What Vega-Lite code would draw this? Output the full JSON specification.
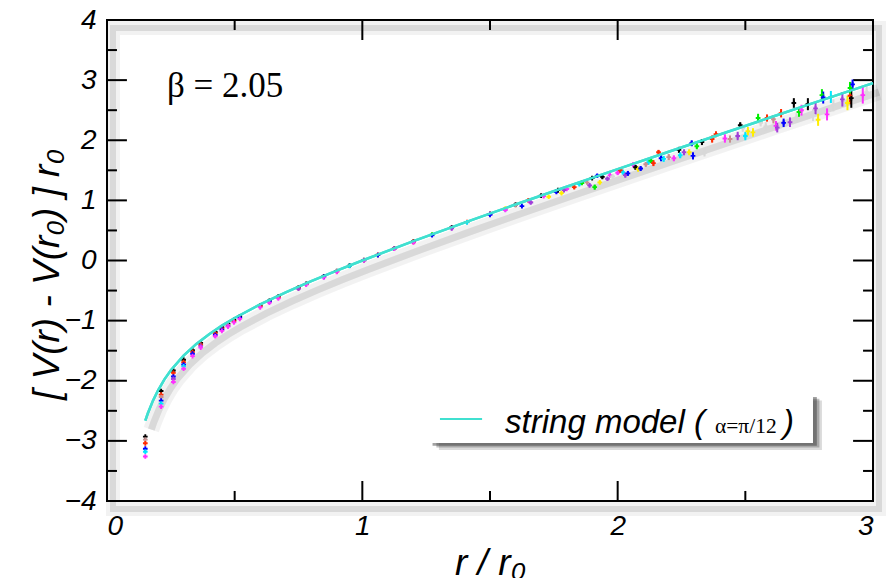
{
  "$schema": "https://vega.github.io/schema/vega-lite/v6.json",
  "width": 766,
  "height": 481,
  "autosize": {"type": "none"},
  "padding": {"left": 107, "top": 20, "right": 13, "bottom": 77},
  "background": "white",
  "config": {
    "view": {"stroke": "black", "strokeWidth": 2},
    "axis": {
      "domain": false,
      "grid": false,
      "ticks": false,
      "labelFont": "Liberation Sans",
      "labelFontStyle": "italic",
      "labelFontSize": 28,
      "labelColor": "black",
      "titleFont": "Liberation Sans",
      "titleFontStyle": "italic",
      "titleFontWeight": "normal",
      "titleFontSize": 37,
      "titleColor": "black"
    }
  },
  "datasets": {
    "lattice": [
      {"r": 0.15, "v": -2.93, "e": 0.01, "s": "k"}, {"r": 0.15, "v": -2.98, "e": 0.01, "s": "p"}, {"r": 0.15, "v": -3.04, "e": 0.01, "s": "r"}, {"r": 0.15, "v": -3.13, "e": 0.01, "s": "b"}, {"r": 0.15, "v": -3.18, "e": 0.01, "s": "c"}, {"r": 0.15, "v": -3.26, "e": 0.01, "s": "m"},
      {"r": 0.212, "v": -2.17, "e": 0.01, "s": "k"}, {"r": 0.212, "v": -2.23, "e": 0.01, "s": "r"}, {"r": 0.212, "v": -2.27, "e": 0.01, "s": "p"}, {"r": 0.212, "v": -2.33, "e": 0.01, "s": "b"}, {"r": 0.212, "v": -2.38, "e": 0.01, "s": "c"}, {"r": 0.212, "v": -2.43, "e": 0.01, "s": "m"},
      {"r": 0.26, "v": -1.83, "e": 0.01, "s": "k"}, {"r": 0.26, "v": -1.87, "e": 0.01, "s": "r"}, {"r": 0.26, "v": -1.93, "e": 0.01, "s": "b"}, {"r": 0.26, "v": -1.97, "e": 0.01, "s": "v"}, {"r": 0.26, "v": -2.02, "e": 0.01, "s": "m"},
      {"r": 0.3, "v": -1.65, "e": 0.01, "s": "k"}, {"r": 0.3, "v": -1.69, "e": 0.01, "s": "r"}, {"r": 0.3, "v": -1.73, "e": 0.01, "s": "b"}, {"r": 0.3, "v": -1.76, "e": 0.01, "s": "c"}, {"r": 0.3, "v": -1.8, "e": 0.01, "s": "m"},
      {"r": 0.335, "v": -1.49, "e": 0.01, "s": "k"}, {"r": 0.335, "v": -1.52, "e": 0.01, "s": "r"}, {"r": 0.335, "v": -1.55, "e": 0.01, "s": "b"}, {"r": 0.335, "v": -1.59, "e": 0.01, "s": "m"},
      {"r": 0.367, "v": -1.37, "e": 0.01, "s": "k"}, {"r": 0.367, "v": -1.4, "e": 0.01, "s": "r"}, {"r": 0.367, "v": -1.42, "e": 0.01, "s": "v"}, {"r": 0.367, "v": -1.45, "e": 0.01, "s": "m"},
      {"r": 0.424, "v": -1.19, "e": 0.01, "s": "k"}, {"r": 0.424, "v": -1.21, "e": 0.01, "s": "r"}, {"r": 0.424, "v": -1.24, "e": 0.01, "s": "b"}, {"r": 0.424, "v": -1.26, "e": 0.01, "s": "m"},
      {"r": 0.45, "v": -1.11, "e": 0.01, "s": "k"}, {"r": 0.45, "v": -1.13, "e": 0.01, "s": "r"}, {"r": 0.45, "v": -1.15, "e": 0.01, "s": "b"}, {"r": 0.45, "v": -1.17, "e": 0.01, "s": "m"},
      {"r": 0.474, "v": -1.05, "e": 0.01, "s": "k"}, {"r": 0.474, "v": -1.07, "e": 0.01, "s": "p"}, {"r": 0.474, "v": -1.09, "e": 0.01, "s": "v"}, {"r": 0.474, "v": -1.1, "e": 0.01, "s": "m"},
      {"r": 0.497, "v": -0.99, "e": 0.01, "s": "k"}, {"r": 0.497, "v": -1.01, "e": 0.01, "s": "r"}, {"r": 0.497, "v": -1.03, "e": 0.01, "s": "m"},
      {"r": 0.52, "v": -0.93, "e": 0.01, "s": "k"}, {"r": 0.52, "v": -0.95, "e": 0.01, "s": "b"}, {"r": 0.52, "v": -0.97, "e": 0.01, "s": "m"},
      {"r": 0.6, "v": -0.75, "e": 0.01, "s": "k"}, {"r": 0.6, "v": -0.76, "e": 0.01, "s": "r"}, {"r": 0.6, "v": -0.78, "e": 0.01, "s": "m"},
      {"r": 0.636, "v": -0.67, "e": 0.01, "s": "k"}, {"r": 0.636, "v": -0.685, "e": 0.01, "s": "b"}, {"r": 0.636, "v": -0.7, "e": 0.01, "s": "m"},
      {"r": 0.671, "v": -0.6, "e": 0.01, "s": "k"}, {"r": 0.671, "v": -0.615, "e": 0.01, "s": "r"}, {"r": 0.671, "v": -0.63, "e": 0.01, "s": "m"},
      {"r": 0.75, "v": -0.45, "e": 0.01, "s": "k"}, {"r": 0.75, "v": -0.46, "e": 0.01, "s": "r"}, {"r": 0.75, "v": -0.47, "e": 0.01, "s": "v"},
      {"r": 0.78, "v": -0.39, "e": 0.01, "s": "k"}, {"r": 0.78, "v": -0.4, "e": 0.01, "s": "m"},
      {"r": 0.849, "v": -0.265, "e": 0.01, "s": "k"}, {"r": 0.849, "v": -0.272, "e": 0.01, "s": "b"}, {"r": 0.849, "v": -0.28, "e": 0.01, "s": "m"},
      {"r": 0.9, "v": -0.175, "e": 0.01, "s": "k"}, {"r": 0.9, "v": -0.18, "e": 0.01, "s": "r"}, {"r": 0.9, "v": -0.19, "e": 0.01, "s": "m"},
      {"r": 0.95, "v": -0.085, "e": 0.01, "s": "k"}, {"r": 0.95, "v": -0.09, "e": 0.01, "s": "c"},
      {"r": 1.006, "v": 0.005, "e": 0.01, "s": "k"}, {"r": 1.006, "v": 0.0, "e": 0.01, "s": "m"},
      {"r": 1.061, "v": 0.095, "e": 0.01, "s": "r"}, {"r": 1.061, "v": 0.09, "e": 0.01, "s": "b"},
      {"r": 1.125, "v": 0.2, "e": 0.01, "s": "k"}, {"r": 1.125, "v": 0.195, "e": 0.01, "s": "m"},
      {"r": 1.2, "v": 0.315, "e": 0.01, "s": "k"}, {"r": 1.2, "v": 0.31, "e": 0.01, "s": "r"}, {"r": 1.2, "v": 0.3, "e": 0.01, "s": "m"},
      {"r": 1.273, "v": 0.43, "e": 0.01, "s": "g"}, {"r": 1.273, "v": 0.42, "e": 0.01, "s": "b"},
      {"r": 1.35, "v": 0.55, "e": 0.01, "s": "k"}, {"r": 1.35, "v": 0.54, "e": 0.01, "s": "m"}, {"r": 1.35, "v": 0.535, "e": 0.01, "s": "v"},
      {"r": 1.41, "v": 0.64, "e": 0.015, "s": "r"}, {"r": 1.41, "v": 0.635, "e": 0.015, "s": "c"},
      {"r": 1.5, "v": 0.775, "e": 0.015, "s": "k"}, {"r": 1.5, "v": 0.77, "e": 0.015, "s": "m"}, {"r": 1.5, "v": 0.76, "e": 0.015, "s": "b"},
      {"r": 1.56, "v": 0.865, "e": 0.02, "s": "y"}, {"r": 1.56, "v": 0.85, "e": 0.02, "s": "c"}, {"r": 1.56, "v": 0.84, "e": 0.02, "s": "m"},
      {"r": 1.6, "v": 0.93, "e": 0.02, "s": "k"}, {"r": 1.6, "v": 0.92, "e": 0.02, "s": "p"}, {"r": 1.625, "v": 0.905, "e": 0.02, "s": "b"},
      {"r": 1.65, "v": 1.0, "e": 0.02, "s": "r"}, {"r": 1.657, "v": 0.975, "e": 0.02, "s": "m"}, {"r": 1.66, "v": 0.965, "e": 0.02, "s": "v"},
      {"r": 1.7, "v": 1.08, "e": 0.025, "s": "k"}, {"r": 1.71, "v": 1.07, "e": 0.025, "s": "m"}, {"r": 1.73, "v": 1.06, "e": 0.025, "s": "y"},
      {"r": 1.76, "v": 1.14, "e": 0.025, "s": "b"}, {"r": 1.766, "v": 1.17, "e": 0.025, "s": "k"}, {"r": 1.78, "v": 1.12, "e": 0.025, "s": "y"},
      {"r": 1.81, "v": 1.22, "e": 0.03, "s": "w"}, {"r": 1.83, "v": 1.22, "e": 0.03, "s": "r"}, {"r": 1.8, "v": 1.19, "e": 0.03, "s": "m"}, {"r": 1.79, "v": 1.17, "e": 0.03, "s": "v"},
      {"r": 1.85, "v": 1.27, "e": 0.03, "s": "c"}, {"r": 1.86, "v": 1.29, "e": 0.03, "s": "g"}, {"r": 1.88, "v": 1.3, "e": 0.03, "s": "p"}, {"r": 1.89, "v": 1.25, "e": 0.03, "s": "v"},
      {"r": 1.9, "v": 1.37, "e": 0.03, "s": "k"}, {"r": 1.92, "v": 1.41, "e": 0.03, "s": "b"}, {"r": 1.91, "v": 1.22, "e": 0.04, "s": "g"}, {"r": 1.93, "v": 1.3, "e": 0.03, "s": "y"},
      {"r": 1.94, "v": 1.39, "e": 0.03, "s": "k"}, {"r": 1.97, "v": 1.42, "e": 0.03, "s": "m"}, {"r": 1.98, "v": 1.4, "e": 0.03, "s": "w"}, {"r": 1.96, "v": 1.36, "e": 0.03, "s": "v"},
      {"r": 2.0, "v": 1.46, "e": 0.04, "s": "m"}, {"r": 2.02, "v": 1.47, "e": 0.04, "s": "c"}, {"r": 2.03, "v": 1.42, "e": 0.04, "s": "v"}, {"r": 2.04, "v": 1.45, "e": 0.04, "s": "b"}, {"r": 2.01, "v": 1.5, "e": 0.04, "s": "r"},
      {"r": 2.06, "v": 1.59, "e": 0.04, "s": "m"}, {"r": 2.07, "v": 1.55, "e": 0.04, "s": "k"}, {"r": 2.08, "v": 1.52, "e": 0.04, "s": "y"}, {"r": 2.09, "v": 1.53, "e": 0.04, "s": "b"},
      {"r": 2.12, "v": 1.63, "e": 0.04, "s": "c"}, {"r": 2.11, "v": 1.6, "e": 0.04, "s": "p"}, {"r": 2.13, "v": 1.66, "e": 0.04, "s": "g"},
      {"r": 2.14, "v": 1.62, "e": 0.05, "s": "r"}, {"r": 2.16, "v": 1.8, "e": 0.04, "s": "r"}, {"r": 2.17, "v": 1.7, "e": 0.05, "s": "b"}, {"r": 2.18, "v": 1.69, "e": 0.05, "s": "c"},
      {"r": 2.2, "v": 1.72, "e": 0.05, "s": "p"}, {"r": 2.22, "v": 1.7, "e": 0.05, "s": "m"}, {"r": 2.24, "v": 1.84, "e": 0.05, "s": "k"}, {"r": 2.245, "v": 1.75, "e": 0.05, "s": "c"},
      {"r": 2.26, "v": 1.8, "e": 0.05, "s": "v"}, {"r": 2.28, "v": 1.8, "e": 0.05, "s": "y"}, {"r": 2.29, "v": 1.95, "e": 0.05, "s": "b"}, {"r": 2.295, "v": 1.74, "e": 0.06, "s": "b"},
      {"r": 2.31, "v": 1.9, "e": 0.05, "s": "g"}, {"r": 2.33, "v": 1.97, "e": 0.05, "s": "k"}, {"r": 2.34, "v": 1.79, "e": 0.06, "s": "w"},
      {"r": 2.37, "v": 2.02, "e": 0.06, "s": "r"}, {"r": 2.385, "v": 2.1, "e": 0.05, "s": "r"}, {"r": 2.42, "v": 2.03, "e": 0.07, "s": "m"}, {"r": 2.44, "v": 2.02, "e": 0.06, "s": "p"}, {"r": 2.47, "v": 2.07, "e": 0.07, "s": "v"},
      {"r": 2.48, "v": 2.25, "e": 0.05, "s": "k"}, {"r": 2.49, "v": 2.2, "e": 0.06, "s": "w"}, {"r": 2.5, "v": 2.07, "e": 0.07, "s": "c"}, {"r": 2.51, "v": 2.15, "e": 0.07, "s": "y"}, {"r": 2.53, "v": 2.13, "e": 0.07, "s": "y"},
      {"r": 2.55, "v": 2.37, "e": 0.07, "s": "g"}, {"r": 2.56, "v": 2.29, "e": 0.06, "s": "w"}, {"r": 2.58, "v": 2.23, "e": 0.07, "s": "w"}, {"r": 2.585, "v": 2.37, "e": 0.06, "s": "r"},
      {"r": 2.61, "v": 2.35, "e": 0.07, "s": "p"}, {"r": 2.62, "v": 2.24, "e": 0.08, "s": "m"}, {"r": 2.625, "v": 2.21, "e": 0.08, "s": "v"}, {"r": 2.64, "v": 2.45, "e": 0.07, "s": "r"}, {"r": 2.65, "v": 2.29, "e": 0.07, "s": "b"},
      {"r": 2.675, "v": 2.3, "e": 0.08, "s": "v"}, {"r": 2.69, "v": 2.62, "e": 0.08, "s": "k"}, {"r": 2.7, "v": 2.37, "e": 0.08, "s": "w"}, {"r": 2.71, "v": 2.47, "e": 0.08, "s": "g"}, {"r": 2.72, "v": 2.5, "e": 0.09, "s": "m"},
      {"r": 2.745, "v": 2.6, "e": 0.1, "s": "k"}, {"r": 2.765, "v": 2.42, "e": 0.1, "s": "w"}, {"r": 2.775, "v": 2.53, "e": 0.1, "s": "v"}, {"r": 2.785, "v": 2.34, "e": 0.1, "s": "y"},
      {"r": 2.8, "v": 2.75, "e": 0.1, "s": "g"}, {"r": 2.805, "v": 2.71, "e": 0.1, "s": "b"}, {"r": 2.82, "v": 2.43, "e": 0.1, "s": "m"}, {"r": 2.835, "v": 2.72, "e": 0.1, "s": "c"}, {"r": 2.845, "v": 2.58, "e": 0.1, "s": "w"},
      {"r": 2.88, "v": 2.68, "e": 0.12, "s": "v"}, {"r": 2.9, "v": 2.62, "e": 0.12, "s": "y"}, {"r": 2.91, "v": 2.74, "e": 0.14, "s": "r"}, {"r": 2.915, "v": 2.7, "e": 0.16, "s": "k"},
      {"r": 2.91, "v": 2.87, "e": 0.1, "s": "g"}, {"r": 2.92, "v": 2.93, "e": 0.08, "s": "b"}, {"r": 2.96, "v": 2.75, "e": 0.14, "s": "m"}, {"r": 2.975, "v": 2.8, "e": 0.12, "s": "w"}
    ],
    "model": [
      {"r": 0.15, "v": -2.663}, {"r": 0.16, "v": -2.54}, {"r": 0.18, "v": -2.331}, {"r": 0.2, "v": -2.158},
      {"r": 0.225, "v": -1.977}, {"r": 0.25, "v": -1.826}, {"r": 0.3, "v": -1.583}, {"r": 0.35, "v": -1.388},
      {"r": 0.4, "v": -1.226}, {"r": 0.45, "v": -1.083}, {"r": 0.5, "v": -0.956}, {"r": 0.6, "v": -0.73},
      {"r": 0.7, "v": -0.529}, {"r": 0.8, "v": -0.343}, {"r": 0.9, "v": -0.168}, {"r": 1.0, "v": 0.0},
      {"r": 1.2, "v": 0.321}, {"r": 1.4, "v": 0.63}, {"r": 1.6, "v": 0.931}, {"r": 1.8, "v": 1.227},
      {"r": 2.0, "v": 1.519}, {"r": 2.2, "v": 1.808}, {"r": 2.4, "v": 2.096}, {"r": 2.6, "v": 2.382},
      {"r": 2.8, "v": 2.667}, {"r": 3.0, "v": 2.951}
    ],
    "frame": [{"x1": 0, "x2": 3, "y1": -4, "y2": 4}],
    "vticks": [
      {"p": 0.5, "a": -4, "b": -3.833}, {"p": 1, "a": -4, "b": -3.667}, {"p": 1.5, "a": -4, "b": -3.833}, {"p": 2, "a": -4, "b": -3.667}, {"p": 2.5, "a": -4, "b": -3.833},
      {"p": 0.5, "a": 4, "b": 3.833}, {"p": 1, "a": 4, "b": 3.667}, {"p": 1.5, "a": 4, "b": 3.833}, {"p": 2, "a": 4, "b": 3.667}, {"p": 2.5, "a": 4, "b": 3.833}
    ],
    "hticks": [
      {"p": -3.5, "a": 0, "b": 0.039}, {"p": -3, "a": 0, "b": 0.078}, {"p": -2.5, "a": 0, "b": 0.039}, {"p": -2, "a": 0, "b": 0.078},
      {"p": -1.5, "a": 0, "b": 0.039}, {"p": -1, "a": 0, "b": 0.078}, {"p": -0.5, "a": 0, "b": 0.039}, {"p": 0, "a": 0, "b": 0.078},
      {"p": 0.5, "a": 0, "b": 0.039}, {"p": 1, "a": 0, "b": 0.078}, {"p": 1.5, "a": 0, "b": 0.039}, {"p": 2, "a": 0, "b": 0.078},
      {"p": 2.5, "a": 0, "b": 0.039}, {"p": 3, "a": 0, "b": 0.078}, {"p": 3.5, "a": 0, "b": 0.039},
      {"p": -3.5, "a": 3, "b": 2.961}, {"p": -3, "a": 3, "b": 2.922}, {"p": -2.5, "a": 3, "b": 2.961}, {"p": -2, "a": 3, "b": 2.922},
      {"p": -1.5, "a": 3, "b": 2.961}, {"p": -1, "a": 3, "b": 2.922}, {"p": -0.5, "a": 3, "b": 2.961}, {"p": 0, "a": 3, "b": 2.922},
      {"p": 0.5, "a": 3, "b": 2.961}, {"p": 1, "a": 3, "b": 2.922}, {"p": 1.5, "a": 3, "b": 2.961}, {"p": 2, "a": 3, "b": 2.922},
      {"p": 2.5, "a": 3, "b": 2.961}, {"p": 3, "a": 3, "b": 2.922}, {"p": 3.5, "a": 3, "b": 2.961}
    ]
  },
  "resolve": {"axis": {"x": "independent", "y": "independent"}},
  "layer": [
    {
      "data": {"name": "model"},
      "mark": {"type": "line", "color": "#40e0d0", "strokeWidth": 2.5},
      "encoding": {
        "x": {"field": "r", "type": "quantitative", "scale": {"domain": [0, 3], "nice": false, "zero": false},
          "axis": {"orient": "bottom", "values": [0, 1, 2, 3], "labelPadding": 11, "title": "r / r₀", "titleY": 73, "titleBaseline": "alphabetic"}},
        "y": {"field": "v", "type": "quantitative", "scale": {"domain": [-4, 4], "nice": false, "zero": false},
          "axis": {"orient": "left", "values": [-4, -3, -2, -1, 0, 1, 2, 3, 4], "labelPadding": 11, "title": "[ V(r)  -  V(r₀) ]  r₀", "titleX": -60, "titleY": 254, "titleBaseline": "middle"}}
      }
    },
    {
      "data": {"name": "frame"},
      "mark": {"type": "rect", "filled": false, "stroke": "#000000", "strokeWidth": 14, "opacity": 0.05, "xOffset": 6, "x2Offset": 6, "yOffset": 8, "y2Offset": 8},
      "encoding": {
        "x": {"field": "x1", "type": "quantitative", "axis": null}, "x2": {"field": "x2"},
        "y": {"field": "y1", "type": "quantitative", "axis": null}, "y2": {"field": "y2"}
      }
    },
    {
      "data": {"name": "frame"},
      "mark": {"type": "rect", "filled": false, "stroke": "#000000", "strokeWidth": 6, "opacity": 0.1, "xOffset": 6, "x2Offset": 6, "yOffset": 8, "y2Offset": 8},
      "encoding": {
        "x": {"field": "x1", "type": "quantitative", "axis": null}, "x2": {"field": "x2"},
        "y": {"field": "y1", "type": "quantitative", "axis": null}, "y2": {"field": "y2"}
      }
    },
    {
      "data": {"name": "model"},
      "mark": {"type": "line", "color": "#000000", "strokeWidth": 16, "opacity": 0.05, "xOffset": 6, "yOffset": 9},
      "encoding": {
        "x": {"field": "r", "type": "quantitative", "axis": null},
        "y": {"field": "v", "type": "quantitative", "axis": null}
      }
    },
    {
      "data": {"name": "model"},
      "mark": {"type": "line", "color": "#000000", "strokeWidth": 7, "opacity": 0.1, "xOffset": 6, "yOffset": 9},
      "encoding": {
        "x": {"field": "r", "type": "quantitative", "axis": null},
        "y": {"field": "v", "type": "quantitative", "axis": null}
      }
    },
    {
      "data": {"name": "vticks"},
      "mark": {"type": "rule", "color": "black", "strokeWidth": 2},
      "encoding": {
        "x": {"field": "p", "type": "quantitative", "axis": null},
        "y": {"field": "a", "type": "quantitative", "axis": null},
        "y2": {"field": "b"}
      }
    },
    {
      "data": {"name": "hticks"},
      "mark": {"type": "rule", "color": "black", "strokeWidth": 2},
      "encoding": {
        "y": {"field": "p", "type": "quantitative", "axis": null},
        "x": {"field": "a", "type": "quantitative", "axis": null},
        "x2": {"field": "b"}
      }
    },
    {
      "data": {"name": "lattice"},
      "mark": {"type": "errorbar", "thickness": 2},
      "encoding": {
        "x": {"field": "r", "type": "quantitative", "axis": null},
        "y": {"field": "v", "type": "quantitative", "axis": null},
        "yError": {"field": "e"},
        "color": {"field": "s", "type": "nominal", "legend": null,
          "scale": {"domain": ["k", "r", "g", "b", "y", "p", "w", "v", "c", "m"],
                    "range": ["#000000", "#ff2a00", "#00ee00", "#0000ff", "#ffee00", "#c89090", "#d8d8d8", "#a040d8", "#00e8ff", "#ff30ff"]}}
      }
    },
    {
      "data": {"name": "lattice"},
      "mark": {"type": "point", "shape": "cross", "filled": true, "size": 22, "opacity": 1},
      "encoding": {
        "x": {"field": "r", "type": "quantitative", "axis": null},
        "y": {"field": "v", "type": "quantitative", "axis": null},
        "color": {"field": "s", "type": "nominal", "legend": null}
      }
    },
    {
      "data": {"name": "model"},
      "mark": {"type": "line", "color": "#40e0d0", "strokeWidth": 2.5},
      "encoding": {
        "x": {"field": "r", "type": "quantitative", "axis": null},
        "y": {"field": "v", "type": "quantitative", "axis": null}
      }
    },
    {
      "data": {"values": [
        {"x1": 1.3, "x2": 2.8, "y1": -2.33, "y2": -3.15, "o": 0.18},
        {"x1": 1.29, "x2": 2.79, "y1": -2.3, "y2": -3.11, "o": 0.3},
        {"x1": 1.275, "x2": 2.78, "y1": -2.27, "y2": -3.08, "o": 0.45}
      ]},
      "mark": {"type": "rect", "color": "#333333"},
      "encoding": {
        "x": {"field": "x1", "type": "quantitative", "axis": null}, "x2": {"field": "x2"},
        "y": {"field": "y1", "type": "quantitative", "axis": null}, "y2": {"field": "y2"},
        "opacity": {"field": "o", "type": "quantitative", "scale": null}
      }
    },
    {
      "data": {"values": [{"x1": 1.257, "x2": 2.765, "y1": -2.237, "y2": -3.035}]},
      "mark": {"type": "rect", "color": "white"},
      "encoding": {
        "x": {"field": "x1", "type": "quantitative", "axis": null}, "x2": {"field": "x2"},
        "y": {"field": "y1", "type": "quantitative", "axis": null}, "y2": {"field": "y2"}
      }
    },
    {
      "data": {"values": [{"x1": 1.304, "x2": 1.469, "y": -2.636}]},
      "mark": {"type": "rule", "color": "#40e0d0", "strokeWidth": 2},
      "encoding": {
        "x": {"field": "x1", "type": "quantitative", "axis": null}, "x2": {"field": "x2"},
        "y": {"field": "y", "type": "quantitative", "axis": null}
      }
    },
    {
      "data": {"values": [
        {"x": 1.559, "y": -2.869, "t": "string model ("},
        {"x": 2.648, "y": -2.869, "t": ")"}
      ]},
      "mark": {"type": "text", "font": "Liberation Sans", "fontStyle": "italic", "fontSize": 33, "align": "left", "baseline": "alphabetic", "color": "black"},
      "encoding": {
        "x": {"field": "x", "type": "quantitative", "axis": null},
        "y": {"field": "y", "type": "quantitative", "axis": null},
        "text": {"field": "t"}
      }
    },
    {
      "data": {"values": [{"x": 2.381, "y": -2.869, "t": "α=π/12"}]},
      "mark": {"type": "text", "font": "Liberation Serif", "fontSize": 21.5, "align": "left", "baseline": "alphabetic", "color": "black"},
      "encoding": {
        "x": {"field": "x", "type": "quantitative", "axis": null},
        "y": {"field": "y", "type": "quantitative", "axis": null},
        "text": {"field": "t"}
      }
    },
    {
      "data": {"values": [{"x": 0.235, "y": 2.72, "t": "β = 2.05"}]},
      "mark": {"type": "text", "font": "Liberation Serif", "fontSize": 35, "align": "left", "baseline": "alphabetic", "color": "black"},
      "encoding": {
        "x": {"field": "x", "type": "quantitative", "axis": null},
        "y": {"field": "y", "type": "quantitative", "axis": null},
        "text": {"field": "t"}
      }
    }
  ]
}
